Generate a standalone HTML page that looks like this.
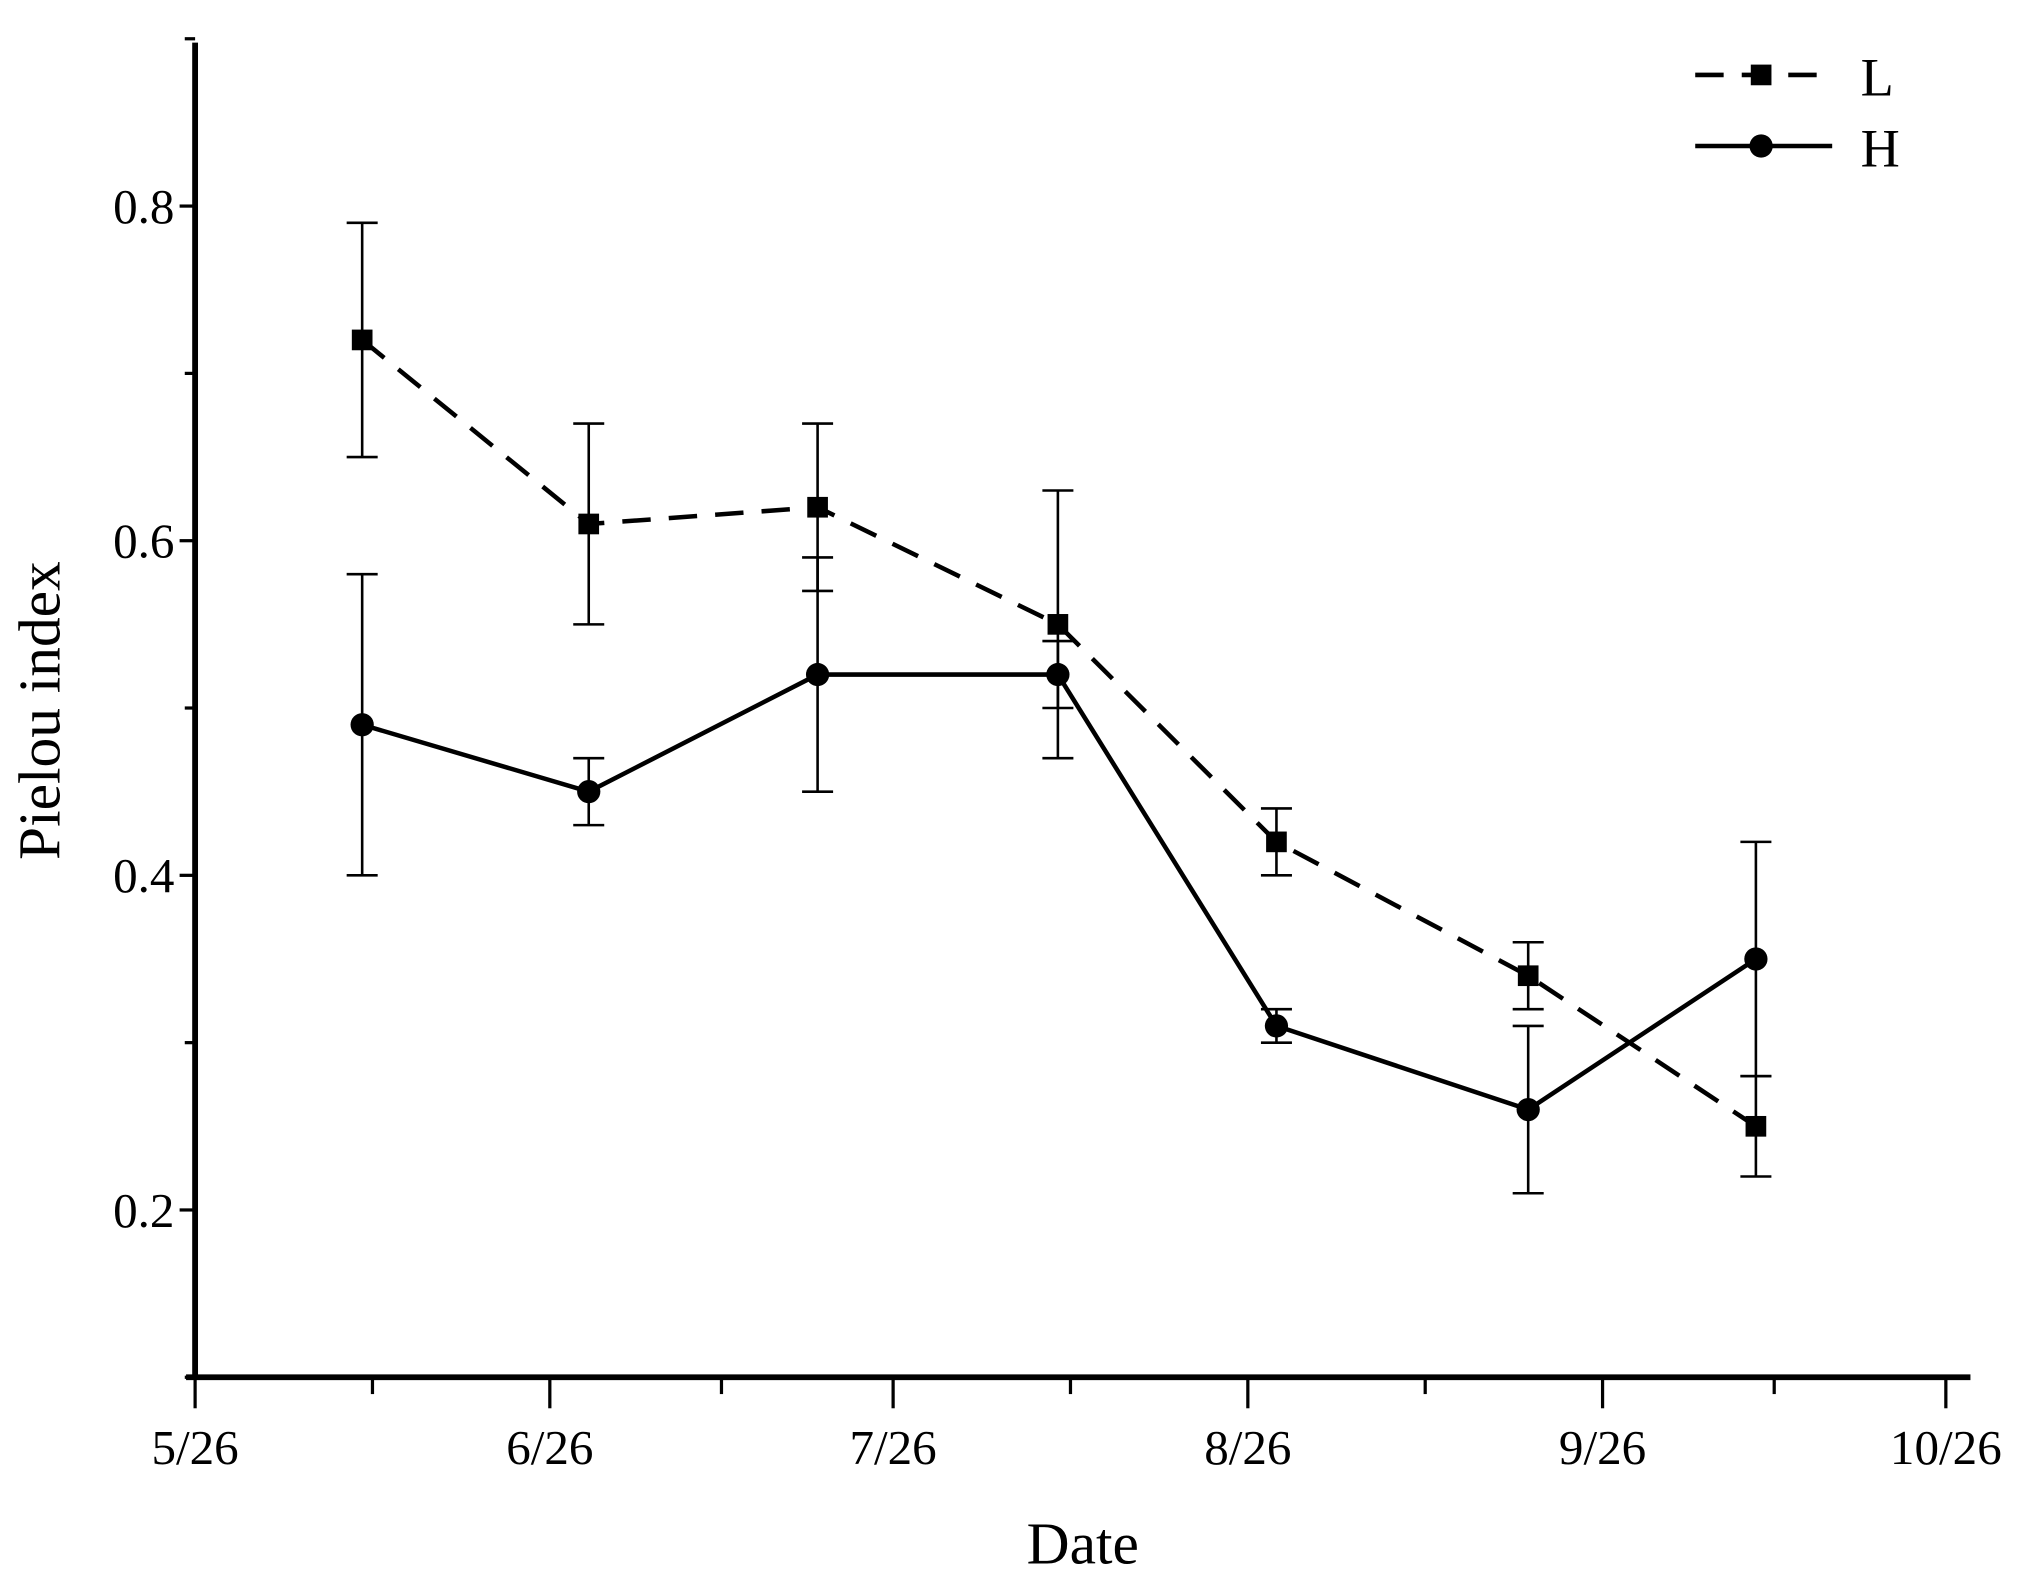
<!DOCTYPE html>
<html><head><meta charset="utf-8"><style>
html,body{margin:0;padding:0;background:#fff;}
svg{display:block;}
text{font-family:"Liberation Serif",serif;fill:#000;}
</style></head><body>
<svg id="chart" width="2026" height="1584" viewBox="0 0 1568 1226" preserveAspectRatio="none" xmlns="http://www.w3.org/2000/svg">
<g id="axes"></g>
<g id="series"></g>
<g id="legend"></g>
</svg>
<script>
// days since 5/26
const sampleDays = [14.6, 34.4, 54.4, 75.4, 94.5, 116.5, 136.4];
const seriesL = [0.72, 0.61, 0.62, 0.55, 0.42, 0.34, 0.25];
const errLowL = [0.65, 0.55, 0.57, 0.47, 0.40, 0.32, 0.22];
const errHighL = [0.79, 0.67, 0.67, 0.63, 0.44, 0.36, 0.28];
const seriesH = [0.49, 0.45, 0.52, 0.52, 0.31, 0.26, 0.35];
const errLowH = [0.40, 0.43, 0.45, 0.50, 0.30, 0.21, 0.28];
const errHighH = [0.58, 0.47, 0.59, 0.54, 0.32, 0.31, 0.42];
const xTickLabels = ["5/26","6/26","7/26","8/26","9/26","10/26"];
const xTickDays = [0, 31, 61, 92, 123, 153];
const yTickValues = [0.2, 0.4, 0.6, 0.8];

const NS="http://www.w3.org/2000/svg";
const X0=151, PXD=8.856, Y0=1066, YMIN=0.1, PXV=1295;
const xs=d=>X0+d*PXD;
const ys=v=>Y0-(v-YMIN)*PXV;
function mk(tag,attrs,parent){const e=document.createElementNS(NS,tag);for(const k in attrs)e.setAttribute(k,attrs[k]);parent.appendChild(e);return e;}
const axes=document.getElementById('axes'), ser=document.getElementById('series'), leg=document.getElementById('legend');

let e;
e=mk('line',{x1:151,y1:33,x2:151,y2:1068,stroke:'#000','stroke-width':4.5},axes);


e=mk('line',{x1:144,y1:1066,x2:1525,y2:1066,stroke:'#000','stroke-width':4.5},axes);


for(let v=0.1;v<=0.901;v+=0.1){
  const major=yTickValues.some(t=>Math.abs(t-v)<1e-6);
  e=mk('line',{x1:151-(major?12:8),y1:ys(v),x2:151,y2:ys(v),stroke:'#000','stroke-width':2.5},axes);
  
  
}
yTickValues.forEach(v=>{
  e=mk('text',{x:135,y:ys(v)+13,'text-anchor':'end','font-size':38},axes);
  e.textContent=v.toFixed(1);
  
  
});
xTickDays.forEach((d,i)=>{
  e=mk('line',{x1:xs(d),y1:1066,x2:xs(d),y2:1090,stroke:'#000','stroke-width':2.5},axes);
  
  
  e=mk('text',{x:xs(d),y:1133,'text-anchor':'middle','font-size':38},axes);
  e.textContent=xTickLabels[i];
  
  
  if(i<xTickDays.length-1){
    const m=(d+xTickDays[i+1])/2;
    e=mk('line',{x1:xs(m),y1:1066,x2:xs(m),y2:1079,stroke:'#000','stroke-width':2.5},axes);
    
    
  }
});
e=mk('text',{x:838,y:1210,'text-anchor':'middle','font-size':46},axes);
e.textContent='Date';


e=mk('text',{x:0,y:0,'text-anchor':'middle','font-size':46,transform:'translate(46,550) rotate(-90)'},axes);
e.textContent='Pielou index';



function drawSeries(vals,lo,hi,dash,marker,name){
  const g=mk('g',{},ser);
  
  
  vals.forEach((v,i)=>{
    const x=xs(sampleDays[i]);
    const b=mk('path',{d:`M${x},${ys(lo[i])}V${ys(hi[i])}M${x-12},${ys(lo[i])}H${x+12}M${x-12},${ys(hi[i])}H${x+12}`,stroke:'#000','stroke-width':2,fill:'none'},g);
    
    
  });
  const pts=vals.map((v,i)=>xs(sampleDays[i])+','+ys(v)).join(' ');
  const pl=mk('polyline',{points:pts,fill:'none',stroke:'#000','stroke-width':3.5},g);
  if(dash)pl.setAttribute('stroke-dasharray','22,14');
  
  
  vals.forEach((v,i)=>{
    const x=xs(sampleDays[i]),y=ys(v);
    let m;
    if(marker==='sq')m=mk('rect',{x:x-8,y:y-8,width:16,height:16,fill:'#000'},g);
    else m=mk('circle',{cx:x,cy:y,r:9,fill:'#000'},g);
    
    
  });
}
drawSeries(seriesL,errLowL,errHighL,true,'sq','L');
drawSeries(seriesH,errLowH,errHighH,false,'ci','H');

e=mk('line',{x1:1312,y1:58,x2:1418,y2:58,stroke:'#000','stroke-width':3.5,'stroke-dasharray':'22,14'},leg);


e=mk('rect',{x:1355,y:50,width:16,height:16,fill:'#000'},leg);


e=mk('text',{x:1440,y:74,'font-size':42},leg);
e.textContent='L';


e=mk('line',{x1:1312,y1:113,x2:1418,y2:113,stroke:'#000','stroke-width':3.5},leg);


e=mk('circle',{cx:1363,cy:113,r:9,fill:'#000'},leg);


e=mk('text',{x:1440,y:129,'font-size':42},leg);
e.textContent='H';


</script>
</body></html>
